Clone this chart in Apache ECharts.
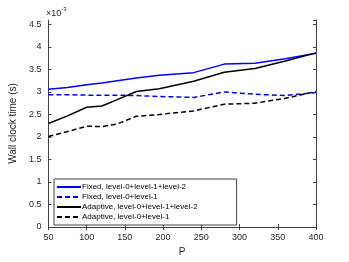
<!DOCTYPE html>
<html>
<head>
<meta charset="utf-8">
<script src="https://cdn.jsdelivr.net/npm/echarts@6/dist/echarts.min.js"></script>
<style>
html,body{margin:0;padding:0;background:#fff;}
#c{width:349px;height:262px;}
</style>
</head>
<body>
<div id="c"></div>
<script>
// Data (wall clock time in units of 1e-3 s)
const P = [50, 75, 100, 120, 140, 165, 195, 240, 280, 320, 360, 400];
const fixedL012 = [3.06, 3.10, 3.16, 3.20, 3.25, 3.31, 3.37, 3.43, 3.62, 3.64, 3.74, 3.86];
const fixedL01 = [2.94, 2.94, 2.93, 2.93, 2.93, 2.92, 2.90, 2.88, 3.00, 2.95, 2.92, 2.99];
const adaptL012 = [2.30, 2.47, 2.66, 2.69, 2.83, 3.01, 3.07, 3.24, 3.44, 3.52, 3.69, 3.87];
const adaptL01 = [2.01, 2.12, 2.24, 2.23, 2.29, 2.46, 2.50, 2.58, 2.73, 2.75, 2.86, 3.01];
const seriesNames = [
  'Fixed, level-0+level-1+level-2',
  'Fixed, level-0+level-1',
  'Adaptive, level-0+level-1+level-2',
  'Adaptive, level-0+level-1'
];
const xTicks = {min: 50, max: 400, interval: 50};
const yTicks = {min: 0, max: 4.6, interval: 0.5};

const pair = arr => P.map((p, i) => [p, arr[i]]);
const axisCol = '#404040';
const textCol = '#262626';
const font = 'Liberation Sans, Arial, sans-serif';

const chart = echarts.init(document.getElementById('c'), null, {renderer: 'canvas'});
const mkSeries = (name, data, color, dashed) => ({
  name, type: 'line', data: pair(data), symbol: 'none', showSymbol: false,
  lineStyle: {color, width: 1.5, type: dashed ? [5, 3] : 'solid'},
  itemStyle: {color}, animation: false, xAxisIndex: 0, yAxisIndex: 0
});
chart.setOption({
  animation: false,
  grid: {left: 46, right: 33, top: 20, bottom: 31},
  xAxis: [{
    type: 'value', min: xTicks.min, max: xTicks.max, interval: xTicks.interval,
    name: 'P', nameLocation: 'middle', nameGap: 20,
    nameTextStyle: {fontSize: 10, color: textCol, fontFamily: font},
    axisLine: {show: true, lineStyle: {color: axisCol, width: 1}},
    axisTick: {show: true, inside: true, length: 3, lineStyle: {color: axisCol}},
    axisLabel: {fontSize: 9, color: textCol, fontFamily: font, margin: 6},
    splitLine: {show: false}
  }, {
    type: 'value', position: 'top', min: xTicks.min, max: xTicks.max, interval: xTicks.interval,
    axisLine: {show: true, lineStyle: {color: axisCol, width: 1}},
    axisTick: {show: true, inside: true, length: 3, lineStyle: {color: axisCol}},
    axisLabel: {show: false}, splitLine: {show: false}
  }],
  yAxis: [{
    type: 'value', min: yTicks.min, max: yTicks.max, interval: yTicks.interval,
    name: 'Wall clock time (s)', nameLocation: 'middle', nameGap: 28,
    nameTextStyle: {fontSize: 10, color: textCol, fontFamily: font},
    axisLine: {show: true, lineStyle: {color: axisCol, width: 1}},
    axisTick: {show: true, inside: true, length: 3, lineStyle: {color: axisCol}},
    axisLabel: {fontSize: 9, color: textCol, fontFamily: font, margin: 7, showMaxLabel: false},
    splitLine: {show: false}
  }, {
    type: 'value', position: 'right', min: yTicks.min, max: yTicks.max, interval: yTicks.interval,
    axisLine: {show: true, lineStyle: {color: axisCol, width: 1}},
    axisTick: {show: true, inside: true, length: 3, lineStyle: {color: axisCol}},
    axisLabel: {show: false}, splitLine: {show: false}
  }],
  legend: {
    orient: 'vertical', left: 54, top: 179,
    padding: [4, 39, 4, 2], itemGap: 2, itemWidth: 24, itemHeight: 8,
    backgroundColor: '#fff', borderColor: axisCol, borderWidth: 1,
    itemStyle: {opacity: 0},
    textStyle: {fontSize: 8, color: '#000', fontFamily: font, padding: [0, 0, 0, -4]},
    data: seriesNames
  },
  graphic: [{
    type: 'text', left: 46, top: 6,
    style: {
      text: '{a|×10}{b|-3}', fill: textCol,
      rich: {
        a: {fontSize: 9, fontFamily: font, fill: textCol, verticalAlign: 'bottom'},
        b: {fontSize: 6, fontFamily: font, fill: textCol, verticalAlign: 'top', padding: [0, 0, 6, 0]}
      }
    }
  }],
  series: [
    mkSeries(seriesNames[0], fixedL012, '#0000ff', false),
    mkSeries(seriesNames[1], fixedL01, '#0000ff', true),
    mkSeries(seriesNames[2], adaptL012, '#000000', false),
    mkSeries(seriesNames[3], adaptL01, '#000000', true)
  ]
});
</script>
</body>
</html>
